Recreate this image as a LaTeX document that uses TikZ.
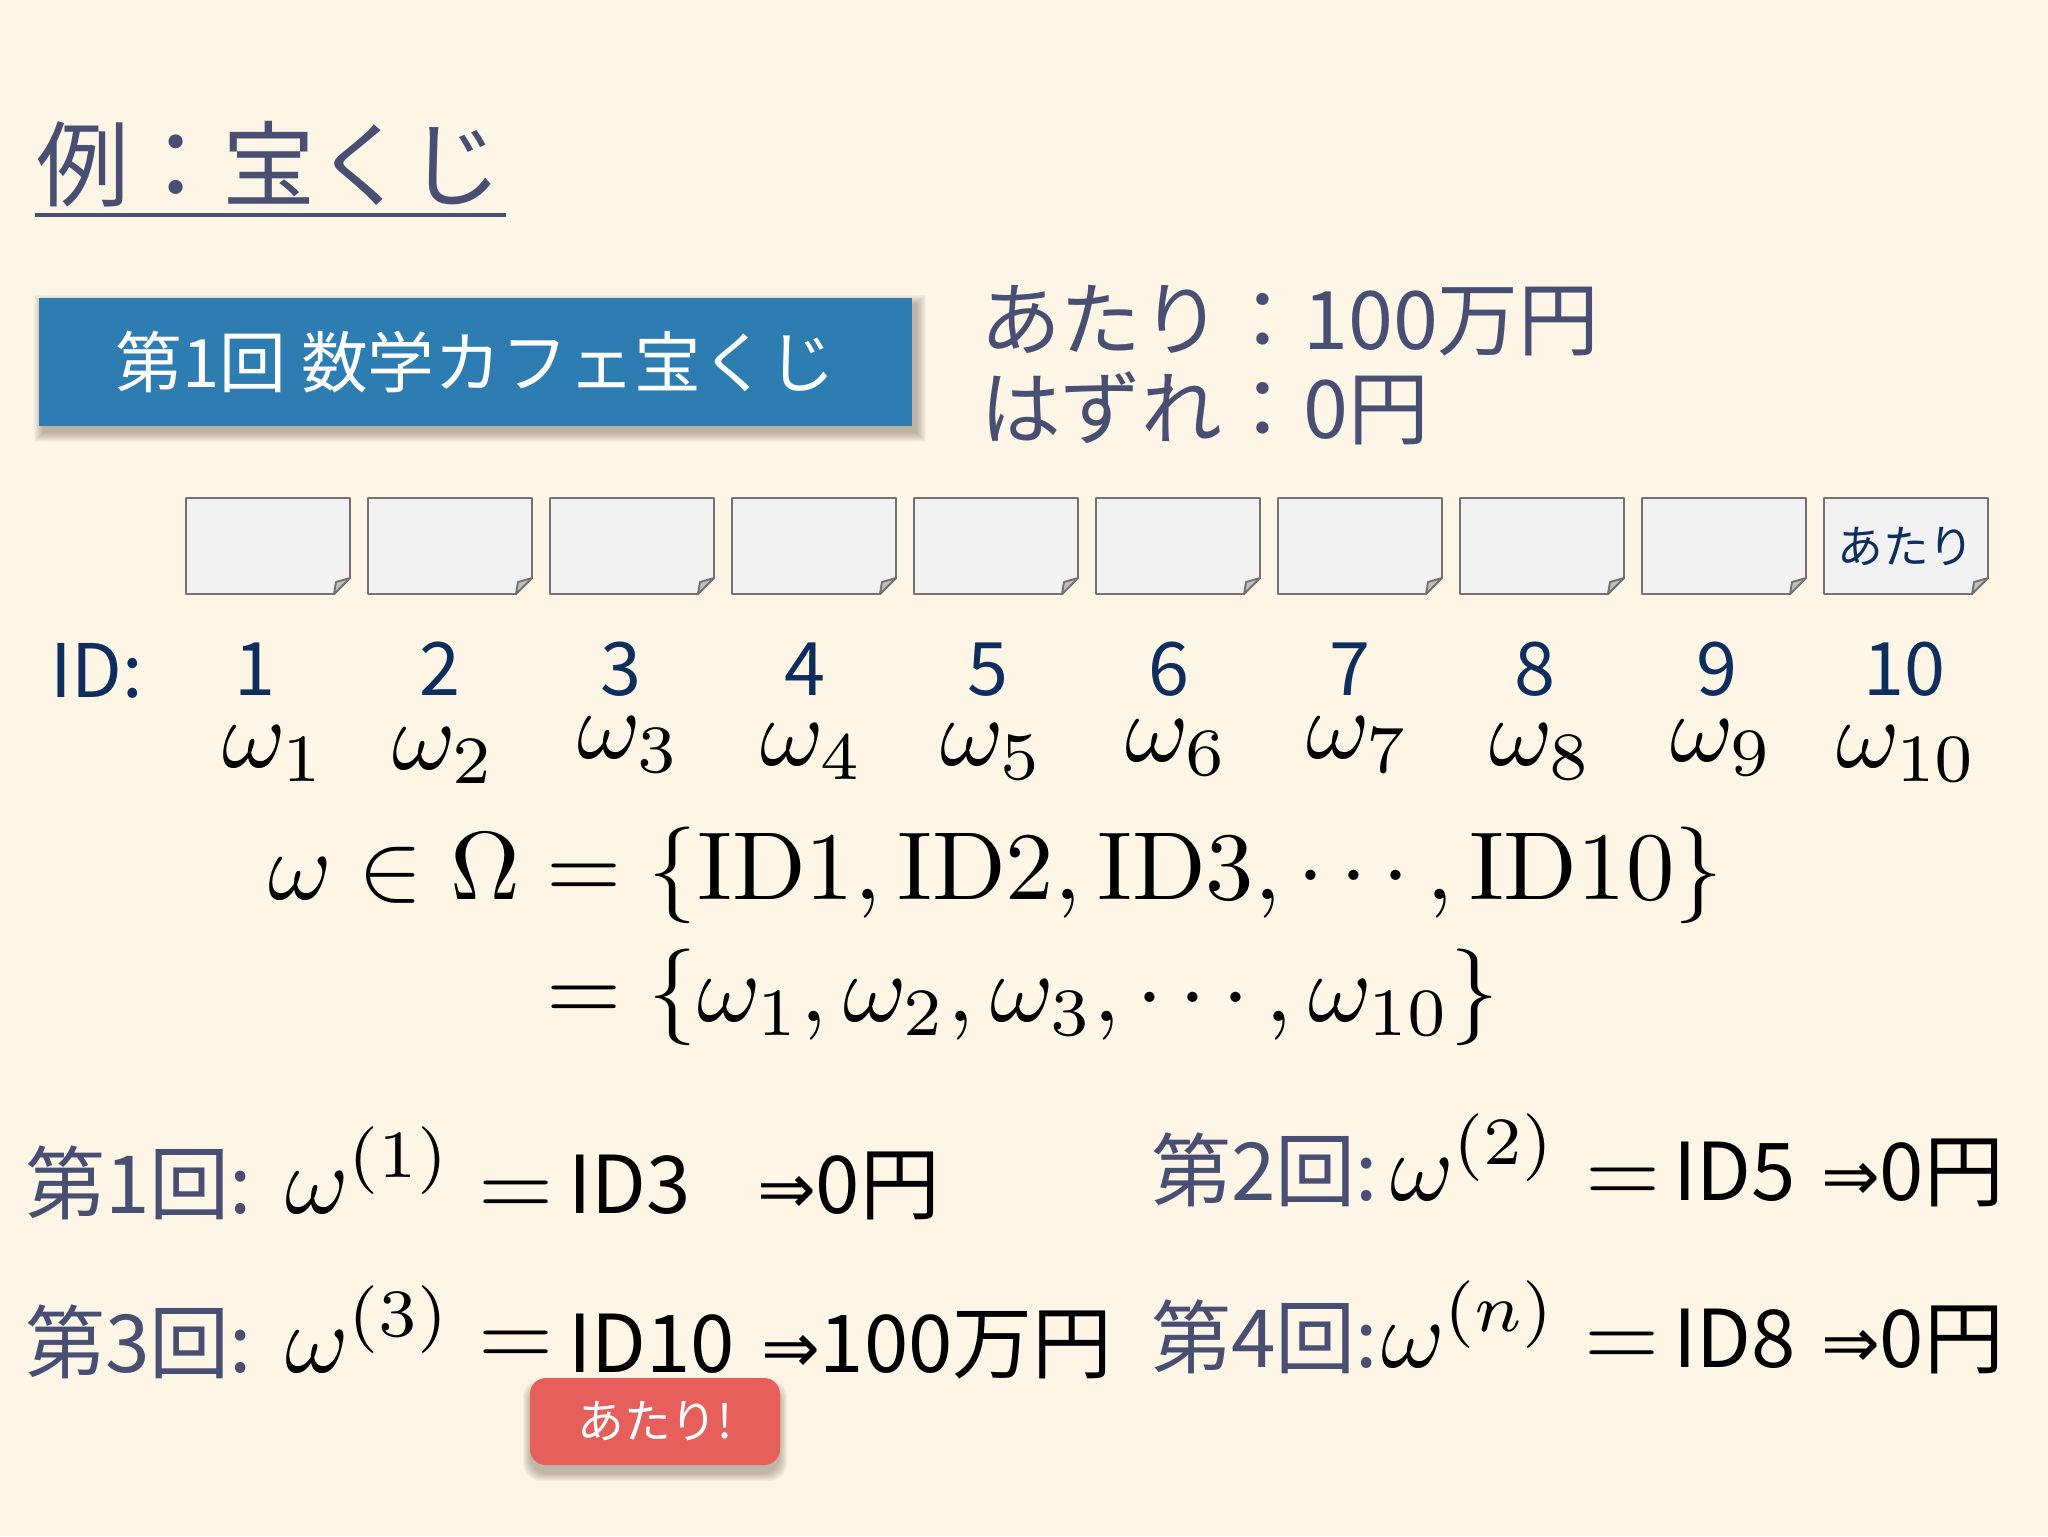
\RequirePackage{fix-cm}
\documentclass[tikz,border=0pt]{standalone}
\usepackage{graphicx}
\usepackage{fontspec}
\newfontfamily\jpf{Noto Sans CJK JP}
\newfontfamily\djv{DejaVu Sans}
\newcommand\fsz[1]{\fontsize{#1}{#1}\selectfont}
\newcommand\smath[1]{\scalebox{2.75}{$#1$}}
\newcommand\arr{{\djv\fsz{20pt}⇒}}
\definecolor{bg}{RGB}{253,245,230}
\definecolor{slate}{RGB}{72,79,114}
\definecolor{navy}{RGB}{14,46,94}
\definecolor{boxblue}{RGB}{46,125,178}
\definecolor{badgered}{RGB}{231,95,90}
\definecolor{paper}{RGB}{242,242,242}
\definecolor{paperline}{RGB}{115,115,115}
\definecolor{foldgrey}{RGB}{192,192,192}
\definecolor{shadowc}{RGB}{60,45,25}
\begin{document}
\begin{tikzpicture}[x=0.1mm,y=-0.1mm,
  txt/.style={inner sep=0pt,outer sep=0pt},
  ticket/.style={draw=paperline,fill=paper,line width=0.55pt,line join=round},
  ticketfold/.style={draw=paperline,fill=foldgrey,line width=0.55pt,line join=round},
  mathbig/.style={txt,font=\fsz{10pt}},
  rowlbl/.style={txt,anchor=base west,text=slate,font=\jpf\fsz{22.8pt}},
  rowtxt/.style={txt,anchor=base west,text=black,font=\jpf\fsz{22.7pt}},
  idnum/.style={txt,anchor=base,text=navy,text depth=0pt,font=\jpf\fsz{21pt}}
]
\fill[bg] (0,0) rectangle (2048,1536);
\useasboundingbox (0,0) rectangle (2048,1536);

% title
\node[txt,anchor=base west,text=slate,font=\jpf\fsz{26.5pt}] (title) at (36,199) {例：宝くじ};
\draw[slate,line width=1.15pt] (35,215) -- (506,215);

% banner with shadow
\foreach \e in {0,1,...,9}{
  \fill[shadowc,opacity=0.035] (43-\e,304-\e) rectangle (917+\e,433+\e);
}
\node[fill=boxblue,inner sep=0pt,minimum width=87.3mm,minimum height=12.8mm,
      text=white,font=\jpf\fsz{19pt}] (banner) at (475.5,362) {第1回 数学カフェ宝くじ};

% prize text
\node[txt,anchor=base west,text=slate,font=\jpf\fsz{23pt}] (win) at (980,349) {あたり：100万円};
\node[txt,anchor=base west,text=slate,font=\jpf\fsz{23pt}] (lose) at (980,438) {はずれ：0円};

% tickets
\foreach \i in {1,...,10}{
  \pgfmathsetmacro\L{186+182*(\i-1)}
  \pgfmathsetmacro\R{\L+164}
  \pgfmathsetmacro\Rf{\L+148}
  \pgfmathsetmacro\Rg{\L+150}
  \draw[ticket] (\L,498) -- (\R,498) -- (\R,578) -- (\Rf,594) -- (\L,594) -- cycle;
  \draw[ticketfold] (\R,578) -- (\Rg,582) -- (\Rf,594) -- cycle;
  \coordinate (t\i) at (\L+82,546);
}
\node[txt,text=navy,font=\jpf\fsz{13pt}] (atari) at (t10) {あたり};

% ID row
\node[txt,anchor=base west,text=navy,text depth=0pt,font=\jpf\fsz{21pt}] (idlbl) at (50,697) {ID:};
\foreach \i/\x in {1/255,2/440,3/621,4/805,5/988,6/1169,7/1350,8/1535,9/1717,10/1904}{
  \node[idnum] (n\i) at (\x,695) {\i};
}

% omega row
\foreach \i/\x/\y in {1/274/767,2/444/769,3/629/758,4/812/765,5/992/765,6/1177/761,7/1358/758,8/1541/765,9/1722/761,10/1907/767}{
  \node[mathbig,anchor=base] (w\i) at (\x,\y) {\smath{\omega_{\i}}};
}

% sample space equations
\node[mathbig,anchor=base east] (eqL) at (520,899) {\smath{\omega\in\Omega}};
\node[mathbig,anchor=base west] (eqR) at (520,899) {\smath{{}=\{\mathrm{ID}1,\mathrm{ID}2,\mathrm{ID}3,\cdots,\mathrm{ID}10\}}};
\node[mathbig,anchor=base west] (eq2) at (520,1021) {\smath{{}=\{\omega_1,\omega_2,\omega_3,\cdots,\omega_{10}\}}};

% trials
\node[rowlbl] (r1l) at (25,1213) {第1回:};
\node[mathbig,anchor=base west] (r1w) at (285,1213) {\smath{\omega^{(1)}}};
\node[mathbig,anchor=base west] (r1e) at (478,1216) {\smath{=}};
\node[rowtxt] (r1i) at (568,1213) {ID3};
\node[rowtxt] (r1r) at (757,1213) {\arr0円};

\node[rowlbl] (r2l) at (1151,1200) {第2回:};
\node[mathbig,anchor=base west] (r2w) at (1390,1200) {\smath{\omega^{(2)}}};
\node[mathbig,anchor=base west] (r2e) at (1585,1203) {\smath{=}};
\node[rowtxt] (r2i) at (1673,1200) {ID5};
\node[rowtxt] (r2r) at (1821,1200) {\arr0円};

\node[rowlbl] (r3l) at (25,1372) {第3回:};
\node[mathbig,anchor=base west] (r3w) at (285,1372) {\smath{\omega^{(3)}}};
\node[mathbig,anchor=base west] (r3e) at (478,1366) {\smath{=}};
\node[rowtxt] (r3i) at (568,1372) {ID10};
\node[rowtxt] (r3r) at (761,1372) {\arr100万円};

\node[rowlbl] (r4l) at (1151,1367) {第4回:};
\node[mathbig,anchor=base west] (r4w) at (1381,1367) {\smath{\omega^{(n)}}};
\node[mathbig,anchor=base west] (r4e) at (1584,1367) {\smath{=}};
\node[rowtxt] (r4i) at (1673,1367) {ID8};
\node[rowtxt] (r4r) at (1821,1367) {\arr0円};

% badge with shadow
\foreach \e in {0,1,...,7}{
  \fill[shadowc,opacity=0.045,rounded corners=5pt] (530-\e,1386-\e) rectangle (780+\e,1474+\e);
}
\node[fill=badgered,rounded corners=4.5pt,inner sep=0pt,minimum width=25mm,minimum height=8.7mm,
      text=white,font=\jpf\fsz{13.3pt}] (badge) at (655,1421.5) {あたり!};
\end{tikzpicture}
\end{document}
